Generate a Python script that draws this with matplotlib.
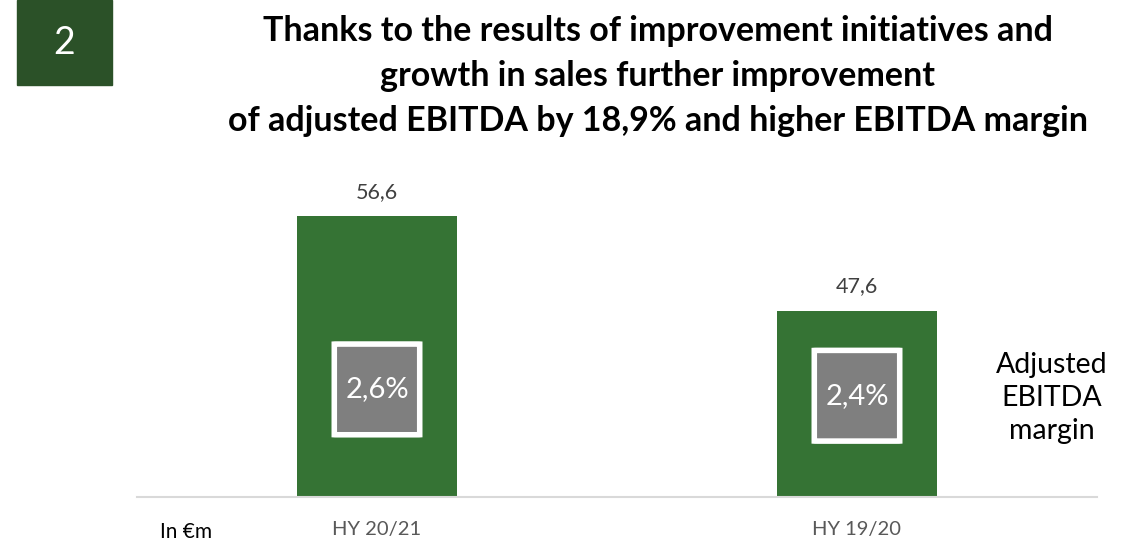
import matplotlib
matplotlib.use("Agg")
import matplotlib.pyplot as plt
from matplotlib.patches import FancyBboxPatch, Rectangle

plt.rcParams['font.family'] = ['Lato', 'DejaVu Sans']

# data
periods = ["HY 20/21", "HY 19/20"]
ebitda = [56.6, 47.6]
margins = ["2,6%", "2,4%"]
margin_y = [40.2, 39.6]
title_lines = ["Thanks to the results of improvement initiatives and",
               "growth in sales further improvement",
               "of adjusted EBITDA by 18,9% and higher EBITDA margin"]

W, H = 1127, 547
fig = plt.figure(figsize=(W / 100, H / 100), dpi=100)
fig.patch.set_facecolor("white")

# section number box
fig.patches.append(Rectangle((17 / W, 1 - 85 / H), 95 / W, 85 / H,
                             transform=fig.transFigure, color="#2b5128"))
fig.text(64.5 / W, 1 - 43 / H, "2", color="white", fontsize=27,
         ha="center", va="center")

for i, line in enumerate(title_lines):
    fig.text(658 / W, 1 - (31 + 45 * i) / H, line, fontsize=24.5,
             fontweight="bold", ha="center", va="center", color="black")

ax = fig.add_axes([137 / W, 1 - 497 / H, 960 / W, 327 / H])
x = list(range(len(periods)))
bars = ax.bar(x, ebitda, width=0.333, color="#357334", bottom=0)
ax.set_ylim(30, 61)
ax.set_xlim(-0.5, 1.5)

for s in ["top", "right", "left"]:
    ax.spines[s].set_visible(False)
ax.spines["bottom"].set_color("#d9d9d9")
ax.spines["bottom"].set_linewidth(1.5)
ax.set_yticks([])
ax.set_xticks(x)
ax.set_xticklabels(periods, fontsize=14.5, color="#595959")
ax.tick_params(axis="x", length=0, pad=17)

for xi, v in zip(x, ebitda):
    ax.text(xi, v + 1.4, f"{v:.1f}".replace(".", ","), ha="center",
            va="bottom", fontsize=15.5, color="#404040")

# margin boxes inside bars
for xi, m, yc in zip(x, margins, margin_y):
    bw, bh = 0.178, 8.6
    ax.add_patch(FancyBboxPatch((xi - bw / 2, yc - bh / 2), bw, bh,
                                boxstyle="round,pad=0,rounding_size=0.006",
                                facecolor="#7f7f7f", edgecolor="white",
                                linewidth=4, zorder=3))
    ax.text(xi, yc, m, ha="center", va="center", fontsize=21,
            color="white", zorder=4)

fig.text(1052 / W, 1 - 398 / H, "Adjusted\nEBITDA\nmargin", fontsize=20.5,
         ha="center", va="center", linespacing=1.35, color="black")
fig.text(186 / W, 1 - 532 / H, "In €m", fontsize=15, ha="center",
         va="center", color="black")

fig.savefig("out.png", dpi=100)
